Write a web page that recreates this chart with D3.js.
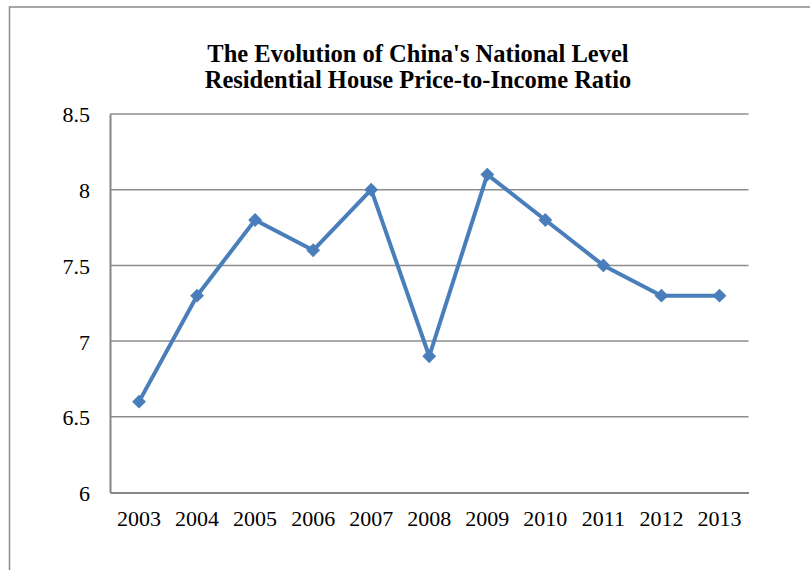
<!DOCTYPE html>
<html>
<head>
<meta charset="utf-8">
<script src="https://cdn.jsdelivr.net/npm/d3@7/dist/d3.min.js"></script>
<style>
  html, body { margin: 0; padding: 0; background: #fff; }
  svg { display: block; }
</style>
</head>
<body>
<div id="chart"></div>
<script>
const years = ['2003', '2004', '2005', '2006', '2007', '2008', '2009', '2010', '2011', '2012', '2013'];
const ratio = [6.6, 7.3, 7.8, 7.6, 8.0, 6.9, 8.1, 7.8, 7.5, 7.3, 7.3];
const yTicks = [6, 6.5, 7, 7.5, 8, 8.5];
const titleLines = ["The Evolution of China's National Level", 'Residential House Price-to-Income Ratio'];

const width = 810, height = 570;
const plot = { left: 110, top: 114, right: 748.5, bottom: 492.5 };
const font = '"Liberation Serif", "Times New Roman", serif';
const lineColor = '#4a7ebb';

const svg = d3.select('#chart').append('svg')
  .attr('width', width)
  .attr('height', height);

// outer chart frame (cropped on right and bottom)
svg.append('rect')
  .attr('x', 9.5).attr('y', 7)
  .attr('width', 840).attr('height', 600)
  .attr('fill', 'none')
  .attr('stroke', '#8a8a8a')
  .attr('stroke-width', 1.5);

const x = d3.scaleBand()
  .domain(years)
  .range([plot.left, plot.right]);

const y = d3.scaleLinear()
  .domain([6, 8.5])
  .range([plot.bottom, plot.top]);

// gridlines
svg.append('g')
  .selectAll('line')
  .data(yTicks.slice(1))
  .join('line')
  .attr('x1', plot.left).attr('x2', plot.right)
  .attr('y1', d => y(d)).attr('y2', d => y(d))
  .attr('stroke', '#8c8c8c')
  .attr('stroke-width', 1.5);

// y axis
const yAxis = svg.append('g')
  .attr('transform', `translate(${plot.left},0)`)
  .call(d3.axisLeft(y).tickValues(yTicks).tickSize(0).tickPadding(20).tickFormat(d3.format('')));
yAxis.select('.domain').attr('stroke', '#868686').attr('stroke-width', 2);
yAxis.selectAll('text')
  .attr('font-family', font)
  .attr('font-size', 22)
  .attr('fill', '#000')
  .attr('dy', '0.36em');

// x axis
const xAxis = svg.append('g')
  .attr('transform', `translate(0,${plot.bottom})`)
  .call(d3.axisBottom(x).tickSize(0).tickPadding(18));
xAxis.select('.domain').attr('stroke', '#868686').attr('stroke-width', 2);
xAxis.selectAll('text')
  .attr('font-family', font)
  .attr('font-size', 22)
  .attr('fill', '#000')
  .attr('dy', '0.71em');

// series line
const line = d3.line()
  .x((d, i) => x(years[i]) + x.bandwidth() / 2)
  .y(d => y(d));

svg.append('path')
  .datum(ratio)
  .attr('d', line)
  .attr('fill', 'none')
  .attr('stroke', lineColor)
  .attr('stroke-width', 4)
  .attr('stroke-linejoin', 'round');

// diamond markers
const marker = d3.symbol().type(d3.symbolSquare).size(96);
svg.append('g')
  .selectAll('path')
  .data(ratio)
  .join('path')
  .attr('d', marker)
  .attr('transform', (d, i) => `translate(${x(years[i]) + x.bandwidth() / 2},${y(d)}) rotate(45)`)
  .attr('fill', lineColor);

// title
svg.append('text')
  .attr('text-anchor', 'middle')
  .attr('font-family', font)
  .attr('font-size', 24.5)
  .attr('font-weight', 'bold')
  .attr('fill', '#000')
  .selectAll('tspan')
  .data(titleLines)
  .join('tspan')
  .attr('x', 418)
  .attr('y', (d, i) => 61.5 + i * 26)
  .text(d => d);
</script>
</body>
</html>
